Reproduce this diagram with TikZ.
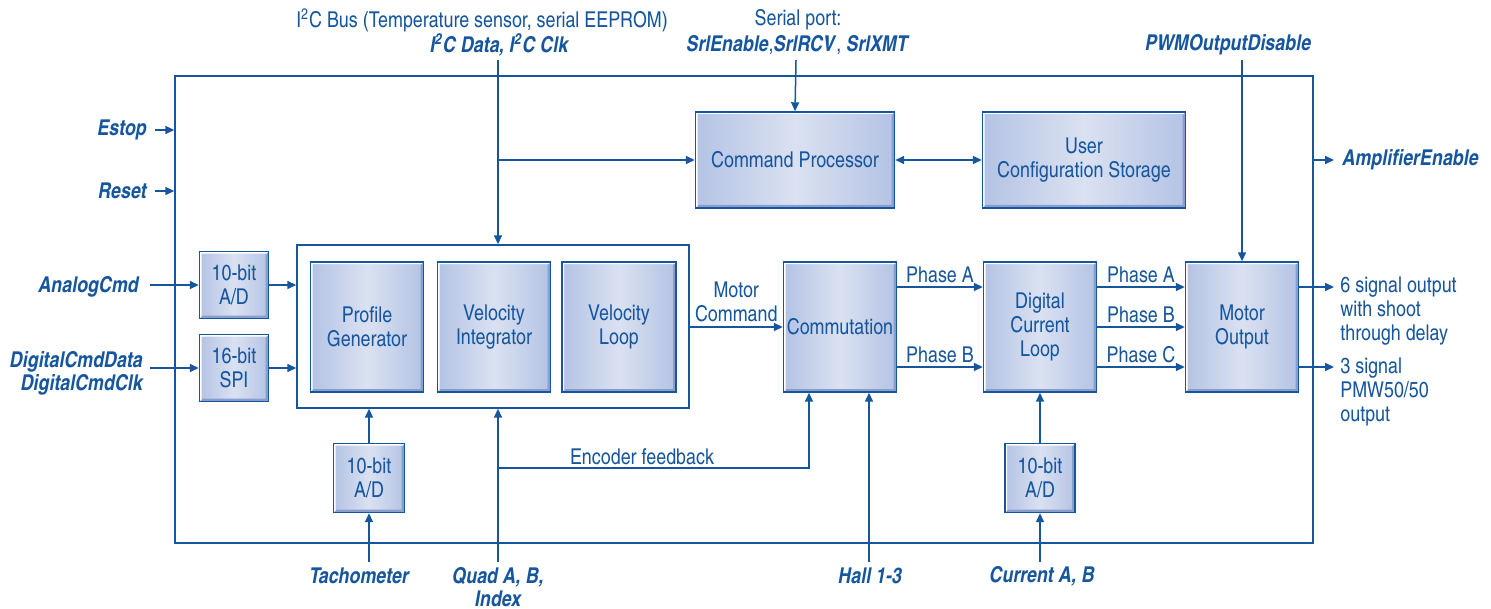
\documentclass[tikz,border=0pt]{standalone}
\usepackage{fontspec}
\setmainfont{texgyreheroscn}[Extension=.otf, UprightFont=*-regular, BoldFont=*-bold, ItalicFont=*-italic, BoldItalicFont=*-bolditalic]
\usepackage{xcolor}
\usepackage{tikz}
\usetikzlibrary{arrows.meta, positioning, calc}
\definecolor{ablue}{RGB}{22,86,158}
\definecolor{blkedge}{RGB}{180,195,228}
\definecolor{blkmid}{RGB}{218,225,241}
\definecolor{bevdark}{RGB}{138,158,206}

\begin{document}
\begin{tikzpicture}[x=0.5pt, y=-0.5pt,
    every node/.style={font=\fontsize{10.9}{12}\selectfont, text=ablue, align=center},
    lab/.style={font=\fontsize{10.9}{11.5}\selectfont\bfseries\itshape},
    arr/.style={draw=ablue, line width=0.75pt, -{Triangle[length=4.5pt,width=4pt]}},
    darr/.style={draw=ablue, line width=0.75pt, {Triangle[length=4.5pt,width=4pt]}-{Triangle[length=4.5pt,width=4pt]}},
    blk/.style={rectangle, draw=ablue, line width=0.7pt, inner sep=1pt,
                left color=blkedge, right color=blkedge, middle color=blkmid,
                path picture={
                  \coordinate (nw) at (path picture bounding box.north west);
                  \coordinate (ne) at (path picture bounding box.north east);
                  \coordinate (sw) at (path picture bounding box.south west);
                  \coordinate (se) at (path picture bounding box.south east);
                  \fill[bevdark] (se) -- (ne) -- ($(ne)+(-1.5pt,-1.5pt)$) -- ($(se)+(-1.5pt,1.5pt)$)
                      -- ($(sw)+(1.5pt,1.5pt)$) -- (sw) -- cycle;
                  \fill[white] (nw) -- (ne) -- ($(ne)+(-1pt,-1pt)$) -- ($(nw)+(1pt,-1pt)$)
                      -- ($(sw)+(1pt,1pt)$) -- (sw) -- cycle;
                }},
    frame/.style={rectangle, draw=ablue, line width=0.7pt}
]
\useasboundingbox (0,0) rectangle (1491,609);

% --- Rahmen ---
\node[frame, minimum width=569pt, minimum height=233.5pt] (outer) at (744,309.5) {};
\node[frame, fill=white, minimum width=196pt, minimum height=81.5pt] (grp) at (493,326.5) {};

% --- obere Bloecke ---
\node[blk, minimum width=99.5pt, minimum height=48pt] (cmdp) at (795,160) {Command Processor};
\node[blk, minimum width=101.5pt, minimum height=48pt] (ucs) at (1084,160) {User\\Configuration Storage};

% --- Regelkette ---
\node[blk, minimum width=56.5pt, minimum height=65pt] (pg) at (367,327) {Profile\\Generator};
\node[blk, minimum width=56.5pt, minimum height=65pt] (vi) at (494,327) {Velocity\\Integrator};
\node[blk, minimum width=57pt, minimum height=65pt] (vl) at (619,327) {Velocity\\Loop};
\node[blk, minimum width=56.5pt, minimum height=65pt] (comm) at (840,327) {Commutation};
\node[blk, minimum width=56.5pt, minimum height=65pt] (dcl) at (1040,327) {Digital\\Current\\Loop};
\node[blk, minimum width=56.5pt, minimum height=65pt] (mo) at (1242,327) {Motor\\Output};

% --- Wandler ---
\node[blk, minimum width=34.5pt, minimum height=33.5pt] (adA) at (234,285) {10-bit\\A/D};
\node[blk, minimum width=34.5pt, minimum height=33.5pt] (spi) at (234,368) {16-bit\\SPI};
\node[blk, minimum width=35.5pt, minimum height=34.5pt] (adT) at (369,478) {10-bit\\A/D};
\node[blk, minimum width=35pt, minimum height=34.5pt] (adC) at (1040,478) {10-bit\\A/D};

% --- oben ---
\coordinate (i2c) at (498,60);
\coordinate (ser) at (796,60);
\coordinate (pwm) at (1242,60);
\node (i2ct) at (482,20) {I\textsuperscript{2}C Bus (Temperature sensor, serial EEPROM)};
\node[lab] (i2cb) at (499,45) {I\textsuperscript{2}C Data, I\textsuperscript{2}C Clk};
\node (sert) at (798,20) {Serial port:};
\node (serb) at (798,45) {\textbf{\textit{SrlEnable}},\textbf{\textit{SrlRCV}}, \textbf{\textit{SrlXMT}}};
\node[lab] (pwmt) at (1228,45) {PWMOutputDisable};
\draw[arr] (i2c) -- (i2c |- grp.north);
\draw[arr] (i2c |- cmdp.west) -- (cmdp.west);
\draw[arr] (ser) -- (cmdp.north);
\draw[darr] (cmdp.east) -- (ucs.west);
\draw[arr] (pwm) -- (mo.north);

% --- links ---
\coordinate (estop) at (155,130);
\coordinate (reset) at (155,191);
\coordinate (ana) at (150,285);
\coordinate (dig) at (150,368);
\node[lab, anchor=east, inner sep=1pt] (estopt) at (149,130) {Estop};
\node[lab, anchor=east, inner sep=1pt] (resett) at (149,191) {Reset};
\node[lab, anchor=east, inner sep=1pt] (anat) at (141,287) {AnalogCmd};
\node[lab, anchor=east, inner sep=1pt, align=right] (digt) at (145,373) {DigitalCmdData\\DigitalCmdClk};
\draw[arr] (estop) -- (estop -| outer.west);
\draw[arr] (reset) -- (reset -| outer.west);
\draw[arr] (ana) -- (adA.west);
\draw[arr] (dig) -- (spi.west);
\draw[arr] (adA.east) -- (adA.east -| grp.west);
\draw[arr] (spi.east) -- (spi.east -| grp.west);

% --- Mitte ---
\draw[arr] (grp.east |- comm.west) -- (comm.west) node[midway, above=-1pt] {Motor\\Command};
\draw[arr] ([yshift=20pt]comm.east) -- ([yshift=20pt]dcl.west) node[midway, above=-1.5pt] {Phase A};
\draw[arr] ([yshift=-20pt]comm.east) -- ([yshift=-20pt]dcl.west) node[midway, above=-1.5pt] {Phase B};
\draw[arr] ([yshift=20pt]dcl.east) -- ([yshift=20pt]mo.west) node[midway, above=-1.5pt] {Phase A};
\draw[arr] (dcl.east) -- (mo.west) node[midway, above=-1.5pt] {Phase B};
\draw[arr] ([yshift=-20pt]dcl.east) -- ([yshift=-20pt]mo.west) node[midway, above=-1.5pt] {Phase C};

% --- rechts ---
\coordinate (amp) at (1334,160);
\coordinate (out6) at (1334,287);
\coordinate (out3) at (1334,367);
\draw[arr] (outer.east |- amp) -- (amp);
\node[lab, anchor=west, inner sep=1pt] (ampt) at (1340,160) {AmplifierEnable};
\draw[arr] (mo.east |- out6) -- (out6);
\draw[arr] (mo.east |- out3) -- (out3);
\node[anchor=west, align=left, inner sep=1pt] (out6t) at (1338,311) {6 signal output\\with shoot\\through delay};
\node[anchor=west, align=left, inner sep=1pt] (out3t) at (1338,392) {3 signal\\PMW50/50\\output};

% --- unten ---
\coordinate (tach) at (369,562);
\coordinate (quad) at (498,562);
\coordinate (enc) at (498,468);
\coordinate (hall) at (869,562);
\coordinate (cur) at (1040,562);
\draw[arr] (tach) -- (adT.south);
\draw[arr] (adT.north) -- (adT.north |- grp.south);
\draw[arr] (quad) -- (quad |- grp.south);
\draw[arr] (enc) -| ([xshift=-15.5pt]comm.south);
\node (enct) at (642,457) {Encoder feedback};
\draw[arr] (hall) -- (hall |- comm.south);
\draw[arr] (cur) -- (adC.south);
\draw[arr] (adC.north) -- (dcl.south);
\node[lab] (tacht) at (359,576) {Tachometer};
\node[lab] (quadt) at (498,587) {Quad A, B,\\Index};
\node[lab] (hallt) at (870,576) {Hall 1-3};
\node[lab] (curt) at (1042,576) {Current A, B};
\end{tikzpicture}
\end{document}
